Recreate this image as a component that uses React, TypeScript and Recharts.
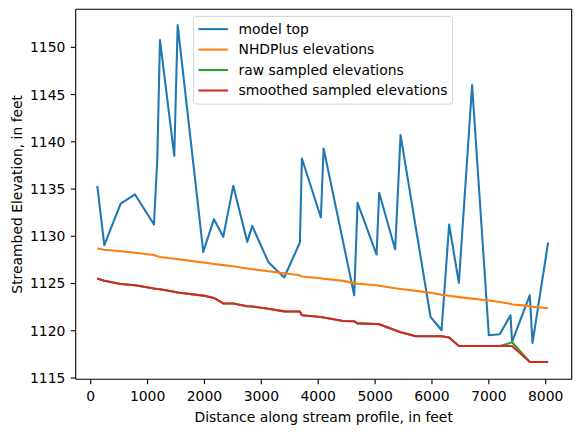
import React from 'react';
import { LineChart, Line, XAxis, YAxis, Legend, Label, ReferenceLine } from 'recharts';

const distance = [116, 239, 527, 779, 1112, 1170, 1218, 1469, 1529, 1979, 2167, 2330, 2506, 2752, 2840, 3121, 3402, 3678, 3713, 4047, 4095, 4440, 4633, 4692, 5026, 5072, 5353, 5448, 5720, 5975, 6169, 6302, 6473, 6706, 7000, 7193, 7381, 7409, 7720, 7768, 8042];

const modelTop = [1135.34, 1129.06, 1133.47, 1134.43, 1131.25, 1138.06, 1150.77, 1138.52, 1152.36, 1128.35, 1131.81, 1129.94, 1135.34, 1129.41, 1131.1, 1127.29, 1125.64, 1129.34, 1138.24, 1131.99, 1139.3, null, 1123.76, 1133.54, 1128.07, 1134.6, 1128.6, 1140.71, null, 1121.46, 1120.05, 1131.25, 1125.06, 1146.01, 1119.52, 1119.63, 1121.64, 1118.81, 1123.76, 1118.71, 1129.34];

const nhdPlus = [1128.7, 1128.58, 1128.42, 1128.25, 1128.02, 1127.88, 1127.8, 1127.63, 1127.58, 1127.22, 1127.07, 1126.95, 1126.83, 1126.6, 1126.52, 1126.3, 1126.08, 1125.87, 1125.74, 1125.55, 1125.5, 1125.28, 1125.04, 1124.98, 1124.82, 1124.76, 1124.5, 1124.42, 1124.22, 1124.03, 1123.8, 1123.7, 1123.56, 1123.4, 1123.2, 1123.05, 1122.85, 1122.78, 1122.63, 1122.55, 1122.38];

const rawSampled = [1125.53, 1125.3, 1124.95, 1124.82, 1124.47, 1124.42, 1124.4, 1124.12, 1124.05, 1123.72, 1123.47, 1122.9, 1122.88, 1122.6, 1122.57, 1122.32, 1122.05, 1122.03, 1121.65, 1121.45, 1121.4, 1121.04, 1121.0, 1120.78, 1120.72, 1120.68, 1120.05, 1119.85, 1119.42, 1119.42, 1119.42, 1119.28, 1118.39, 1118.39, 1118.39, 1118.39, 1118.72, 1118.78, 1116.7, 1116.7, 1116.7];

const smoothedSampled = [1125.53, 1125.3, 1124.95, 1124.82, 1124.47, 1124.42, 1124.4, 1124.12, 1124.05, 1123.72, 1123.47, 1122.9, 1122.88, 1122.6, 1122.57, 1122.32, 1122.05, 1122.03, 1121.65, 1121.45, 1121.4, 1121.04, 1121.0, 1120.78, 1120.72, 1120.68, 1120.05, 1119.85, 1119.42, 1119.42, 1119.42, 1119.28, 1118.39, 1118.39, 1118.39, 1118.39, 1118.39, 1118.39, 1116.7, 1116.7, 1116.7];

const xTicks = [0, 1000, 2000, 3000, 4000, 5000, 6000, 7000, 8000];
const yTicks = [1115, 1120, 1125, 1130, 1135, 1140, 1145, 1150];

const seriesNames = ['model top', 'NHDPlus elevations', 'raw sampled elevations', 'smoothed sampled elevations'];
const seriesKeys = ['model', 'nhd', 'raw', 'smooth'];
const colors = ['#1f77b4', '#ff7f0e', '#2ca02c', '#d62728'];

const data = distance.map((x, i) => ({
  x,
  model: modelTop[i],
  nhd: nhdPlus[i],
  raw: rawSampled[i],
  smooth: smoothedSampled[i],
}));

const FONT = 'DejaVu Sans';
const FS = 13.9;
const xDomain = [-264, 8457];
const yDomain = [1114.86, 1154.03];

const LegendBox = () => (
  <svg width={261} height={90} style={{ display: 'block' }}>
    <rect x={0.5} y={0.5} width={259} height={87.6} rx={3} ry={3} fill="#fff" fillOpacity={0.8} stroke="#d6d6d6" strokeWidth={1} />
    {seriesNames.map((n, i) => {
      const cy = 13.1 + i * 20.47;
      return (
        <g key={n}>
          <line x1={5.5} x2={34.9} y1={cy} y2={cy} stroke={colors[i]} strokeWidth={2.08} />
          <text x={45.5} y={cy + 4.9} fontSize={FS} fill="#000" fontFamily={FONT}>{n}</text>
        </g>
      );
    })}
  </svg>
);

export default function App() {
  const tickStyle = { fill: '#000', fontSize: FS, fontFamily: FONT };
  const lineStyle = { stroke: '#000', strokeWidth: 1.1 };
  return (
    <div style={{ position: 'absolute', left: 0, top: 0, width: 580, height: 432, background: '#fff', fontFamily: FONT }}>
      <LineChart width={580} height={432} data={data} margin={{ top: 9.3, right: 8.3, bottom: 0, left: 0 }}>
        <XAxis
          dataKey="x"
          type="number"
          domain={xDomain}
          ticks={xTicks}
          interval={0}
          allowDataOverflow
          height={52.7}
          tickSize={4.86}
          tickMargin={7}
          tick={tickStyle}
          axisLine={lineStyle}
          tickLine={lineStyle}
        >
          <Label value="Distance along stream profile, in feet" position="insideBottom" offset={10.4} fill="#000" fontSize={FS} style={{ fill: '#000', fontSize: FS, fontFamily: FONT }} />
        </XAxis>
        <YAxis
          type="number"
          domain={yDomain}
          ticks={yTicks}
          interval={0}
          allowDataOverflow
          width={75.7}
          tickSize={4.86}
          tickMargin={5.5}
          tick={tickStyle}
          axisLine={lineStyle}
          tickLine={lineStyle}
        >
          <Label value="Streambed Elevation, in feet" angle={-90} position="insideLeft" offset={17} style={{ textAnchor: 'middle', fill: '#000', fontSize: FS, fontFamily: FONT }} />
        </YAxis>
        {seriesKeys.map((k, i) => (
          <Line
            key={k}
            dataKey={k}
            name={seriesNames[i]}
            type="linear"
            stroke={colors[i]}
            strokeWidth={2.08}
            strokeLinejoin="round"
            dot={false}
            activeDot={false}
            connectNulls
            isAnimationActive={false}
          />
        ))}
        <ReferenceLine y={yDomain[1]} stroke="#000" strokeWidth={1.1} ifOverflow="visible" />
        <ReferenceLine x={xDomain[1]} stroke="#000" strokeWidth={1.1} ifOverflow="visible" />
        <Legend
          layout="vertical"
          verticalAlign="middle"
          align="center"
          content={() => <LegendBox />}
          wrapperStyle={{ position: 'absolute', left: 192.8, top: 16.2, width: 261, height: 90 }}
        />
      </LineChart>
    </div>
  );
}
